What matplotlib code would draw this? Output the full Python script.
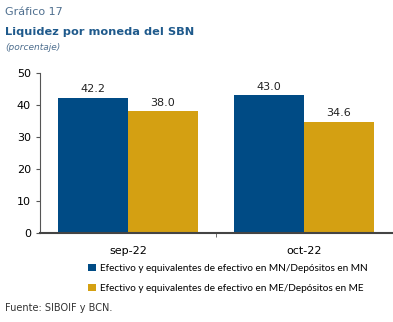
import matplotlib.pyplot as plt
import numpy as np

categories = ['sep-22', 'oct-22']
mn_values = [42.2, 43.0]
me_values = [38.0, 34.6]
series_labels = ['Efectivo y equivalentes de efectivo en MN/Depósitos en MN',
                 'Efectivo y equivalentes de efectivo en ME/Depósitos en ME']

blue = '#004B85'
gold = '#D4A012'
title_col = '#1F5A8C'

fig = plt.figure(figsize=(3.93, 3.22), dpi=100)
ax = fig.add_axes([40 / 393, 89 / 322, 352 / 393, 160 / 322])

x = np.arange(len(categories))
w = 70 / 176
ax.bar(x - w / 2, mn_values, width=w, color=blue, label=series_labels[0])
ax.bar(x + w / 2, me_values, width=w, color=gold, label=series_labels[1])

for xi, v in zip(x - w / 2, mn_values):
    ax.text(xi, v + 1.2, f'{v:.1f}', ha='center', va='bottom', fontsize=8, color='#222222')
for xi, v in zip(x + w / 2, me_values):
    ax.text(xi, v + 1.2, f'{v:.1f}', ha='center', va='bottom', fontsize=8, color='#222222')

ax.set_xlim(-0.5, 1.5)
ax.set_ylim(0, 50)
ax.set_yticks(range(0, 51, 10))
ax.set_xticks(x)
ax.set_xticklabels(categories)
ax.set_xticks([0.5], minor=True)
ax.tick_params(axis='x', which='major', length=0, labelsize=8, pad=9)
ax.tick_params(axis='x', which='minor', length=3, direction='out', color='#555555')
ax.tick_params(axis='y', length=3, direction='out', labelsize=8, color='#555555')
for s in ['top', 'right']:
    ax.spines[s].set_visible(False)
ax.spines['left'].set_color('#555555')
ax.spines['bottom'].set_color('#444444')
ax.spines['bottom'].set_linewidth(1.5)

fig.text(5 / 393, 1 - 12 / 322, 'Gráfico 17', fontsize=8, color='#4F6F8F', va='center')
fig.text(5 / 393, 1 - 32 / 322, 'Liquidez por moneda del SBN', fontsize=8.2, fontweight='bold',
         color=title_col, va='center')
fig.text(5 / 393, 1 - 48 / 322, '(porcentaje)', fontsize=6.5, style='italic', color='#4F6F8F', va='center')

ax.legend(loc='upper left', bbox_to_anchor=(88 / 393, 58 / 322), bbox_transform=fig.transFigure,
          frameon=False, prop={'family': 'Lato', 'size': 7.2}, handlelength=0.75, handleheight=0.75,
          handletextpad=0.45, labelspacing=1.05, borderaxespad=0, borderpad=0)

fig.text(5 / 393, 1 - 308 / 322, 'Fuente: SIBOIF y BCN.', fontsize=7, color='#333333', va='center')

fig.savefig('out.png', dpi=100)
